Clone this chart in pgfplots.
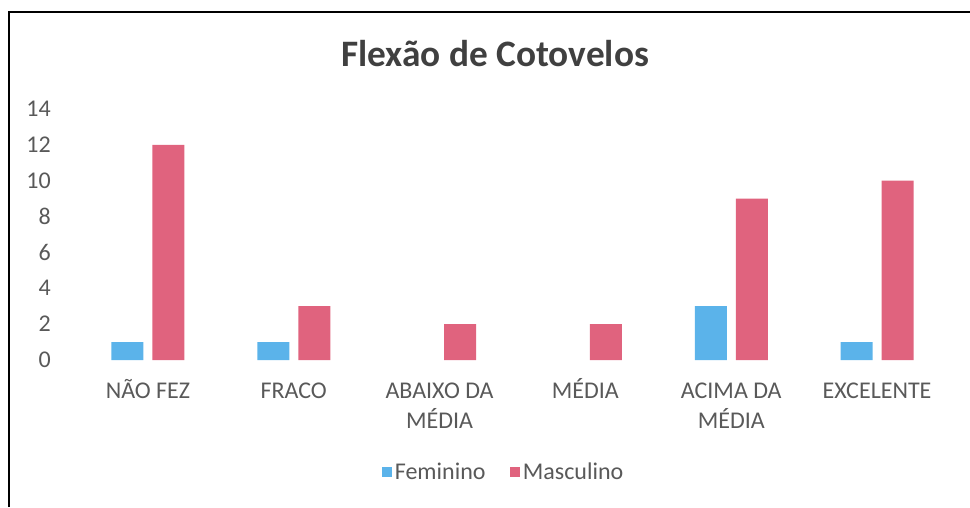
\documentclass[border=0pt]{standalone}
\usepackage{fontspec}
\setmainfont{Carlito}
\usepackage{pgfplots}
\pgfplotsset{compat=1.18}
\definecolor{fem}{HTML}{5BB3EA}
\definecolor{masc}{HTML}{E0637E}
\definecolor{txt}{HTML}{595959}
\definecolor{titlec}{HTML}{404040}
\newcommand{\s}{\rule{0pt}{17pt}}
\begin{document}
\begin{tikzpicture}
\useasboundingbox (0,0) rectangle (727.5pt,380.25pt);
\draw[line width=1pt] (6.75pt,0) -- (6.75pt,371.25pt) -- (727.5pt,371.25pt);
\node[anchor=base, font=\fontsize{28}{32}\selectfont\bfseries, text=titlec] at (371.25pt,330pt) {Flexão de Cotovelos};
\begin{axis}[
    at={(56.25pt,110.25pt)}, anchor=south west,
    scale only axis, width=656.25pt, height=188.25pt,
    ybar=6.75pt, bar width=24pt,
    xmin=-0.5, xmax=5.5, ymin=0, ymax=14,
    xtick={0,1,2,3,4,5},
    xticklabels={\s NÃO FEZ, \s FRACO, {\s ABAIXO DA\\MÉDIA}, \s MÉDIA, {\s ACIMA DA\\MÉDIA}, \s EXCELENTE},
    ytick={0,2,...,14},
    major tick length=0pt,
    axis line style={draw=none},
    /pgf/number format/assume math mode=true,
    tick label style={font=\fontsize{18}{22.5}\selectfont, text=txt},
    xticklabel style={align=center, anchor=north, inner sep=0pt, yshift=-12pt},
    yticklabel style={anchor=east, inner sep=0pt, xshift=-18pt},
    legend style={at={(0.49,-0.446)}, anchor=center, draw=none,
        legend columns=2, font=\fontsize{18}{20}\selectfont, text=txt,
        /tikz/every even column/.append style={column sep=16pt}},
    legend image code/.code={\fill[#1] (1pt,-4pt) rectangle (9pt,4pt);},
]
\addplot[fill=fem, draw=none] coordinates {(0,1) (1,1) (4,3) (5,1)};
\addlegendentry{Feminino}
\addplot[fill=masc, draw=none] coordinates {(0,12) (1,3) (2,2) (3,2) (4,9) (5,10)};
\addlegendentry{Masculino}
\end{axis}
\end{tikzpicture}
\end{document}
